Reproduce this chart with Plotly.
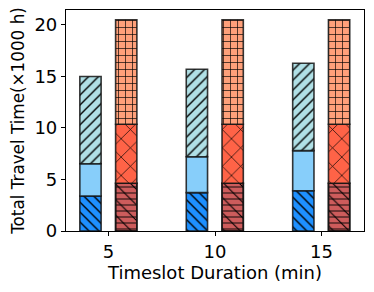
import plotly.graph_objects as go

durations = [5, 10, 15]
ytick_vals = [0, 5, 10, 15, 20]

# left (blue) stack segments
blue_bottom = [3.40, 3.72, 3.91]
blue_middle = [3.13, 3.49, 3.89]
blue_top = [8.47, 8.49, 8.48]
# right (red) stack segments
red_bottom = [4.63, 4.63, 4.63]
red_middle = [5.73, 5.73, 5.73]
red_top = [10.14, 10.14, 10.14]

fig = go.Figure()

LINE = dict(color="rgba(20,20,20,0.85)", width=1.6)


def add_bar(vals, base, color, shape, size, offset, solidity=0.25, transparent=False):
    fig.add_trace(go.Bar(
        x=durations, y=vals, base=base, width=1.0, offset=offset,
        marker=dict(
            color="rgba(0,0,0,0)" if transparent else color,
            line=LINE,
            pattern=dict(shape=shape, size=size, solidity=solidity,
                         fgcolor="black",
                         bgcolor="rgba(0,0,0,0)" if transparent else color,
                         fillmode="replace"),
        ),
        showlegend=False, hoverinfo="skip",
    ))


def cum(*arrs):
    return [sum(a[i] for a in arrs) for i in range(len(arrs[0]))]


zeros = [0, 0, 0]
# blue stack
add_bar(blue_bottom, zeros, "#1E90FF", "\\", 7, -1.35, solidity=0.2)
add_bar(blue_middle, cum(blue_bottom), "#87CEFA", "", 7, -1.35)
add_bar(blue_top, cum(blue_bottom, blue_middle), "#B0E0E6", "/", 7, -1.35, solidity=0.2)
# red stack
add_bar(red_bottom, zeros, "#CD5C5C", "-", 6, 0.33, solidity=0.15)
add_bar(red_bottom, zeros, "#CD5C5C", "\\", 11, 0.33, solidity=0.1, transparent=True)
add_bar(red_middle, cum(red_bottom), "#FF6347", "x", 13, 0.33, solidity=0.1)
add_bar(red_top, cum(red_bottom, red_middle), "#FFA07A", "+", 7, 0.33, solidity=0.18)

FONT = dict(family="DejaVu Sans", size=18, color="black")
YTITLE_FONT = dict(family="DejaVu Sans", size=16.8, color="black")

fig.update_layout(
    barmode="overlay",
    width=358, height=276,
    margin=dict(l=58, r=2, t=2, b=53, autoexpand=False),
    paper_bgcolor="white", plot_bgcolor="white",
    font=FONT,
    showlegend=False,
)
fig.update_xaxes(
    range=[3.0, 17.0], tickvals=durations, ticktext=[str(d) for d in durations],
    showline=True, linecolor="black", linewidth=1.2, mirror=True,
    ticks="outside", ticklen=4, tickcolor="black", showgrid=False, zeroline=False,
    title=dict(text="Timeslot Duration (min)", font=FONT, standoff=2),
    tickfont=FONT, automargin=False,
)
fig.update_yaxes(
    range=[0, 21.45], tickvals=ytick_vals,
    showline=True, linecolor="black", linewidth=1.2, mirror=True,
    ticks="outside", ticklen=4, tickcolor="black", showgrid=False, zeroline=False,
    title=dict(text="Total Travel Time(×1000 h)", font=YTITLE_FONT, standoff=5),
    tickfont=FONT, automargin=False,
)

fig.write_html("out.html")
